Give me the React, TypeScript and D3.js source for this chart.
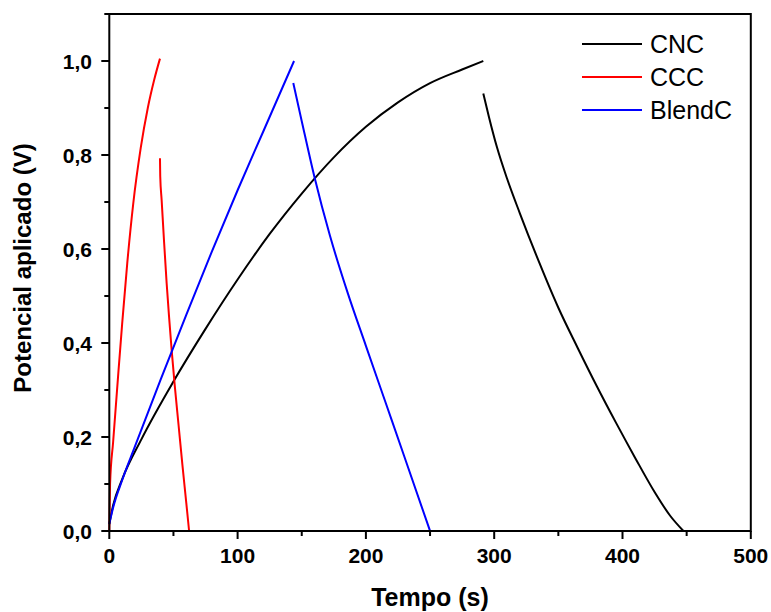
import React from "react";
import * as d3 from "d3";

const cncChargeT = [0, 3, 10, 25, 50, 75, 100, 125, 150, 175, 200, 225, 250, 275, 291.5];
const cncChargeV = [0.015, 0.055, 0.11, 0.195, 0.318, 0.43, 0.535, 0.632, 0.718, 0.795, 0.86, 0.912, 0.953, 0.982, 1.0];
const cncDisT = [291.5, 296, 302, 310, 320, 335, 350, 365, 380, 395, 410, 425, 437, 447.5];
const cncDisV = [0.931, 0.88, 0.818, 0.75, 0.676, 0.572, 0.475, 0.39, 0.308, 0.23, 0.155, 0.083, 0.033, 0];

const cccChargeT = [0, 0.6, 3, 7, 10, 14, 18.6, 24.5, 30, 35, 39.5];
const cccChargeV = [0, 0.1, 0.19, 0.335, 0.44, 0.57, 0.695, 0.815, 0.9, 0.96, 1.005];
const cccDisT = [39.5, 39.7, 40.8, 42.7, 44.7, 46.6, 48.6, 51, 54, 57, 60, 62.2];
const cccDisV = [0.793, 0.755, 0.704, 0.615, 0.527, 0.455, 0.385, 0.31, 0.225, 0.14, 0.06, 0];

const blendChargeT = [0, 3, 10, 20, 40, 60, 80, 100, 120, 144];
const blendChargeV = [0.015, 0.05, 0.108, 0.18, 0.322, 0.46, 0.595, 0.725, 0.85, 1.0];
const blendDisT = [143.4, 150, 160, 172, 186, 200, 215, 230, 250];
const blendDisV = [0.953, 0.872, 0.752, 0.628, 0.505, 0.394, 0.276, 0.158, 0];

const seriesNames = ["CNC", "CCC", "BlendC"];
const seriesColors = ["#000000", "#ff0000", "#0000ff"];

const xTicks = [0, 100, 200, 300, 400, 500];
const xMinor = [50, 150, 250, 350, 450];
const yTicks = [0, 0.2, 0.4, 0.6, 0.8, 1.0];
const yMinor = [0.1, 0.3, 0.5, 0.7, 0.9, 1.1];

const xTitle = "Tempo (s)";
const yTitle = "Potencial aplicado (V)";

const L = 109.3, R = 750.8, T = 14, B = 531;

export default function App() {
  const x = d3.scaleLinear().domain([0, 500]).range([L, R]);
  const y = d3.scaleLinear().domain([0, 1.1]).range([B, T]);
  const line = d3
    .line<[number, number]>()
    .x((d) => x(d[0]))
    .y((d) => y(d[1]))
    .curve(d3.curveMonotoneX);
  const zip = (a: number[], b: number[]) => a.map((v, i) => [v, b[i]] as [number, number]);

  const segments = [
    { d: zip(cncChargeT, cncChargeV), c: 0 },
    { d: zip(cncDisT, cncDisV), c: 0 },
    { d: zip(cccChargeT, cccChargeV), c: 1 },
    { d: zip(cccDisT, cccDisV), c: 1 },
    { d: zip(blendChargeT, blendChargeV), c: 2 },
    { d: zip(blendDisT, blendDisV), c: 2 },
  ];

  const fmt = (v: number) => v.toFixed(1).replace(".", ",");
  const font = "'Liberation Sans', Arial, sans-serif";

  return (
    <svg
      width={771}
      height={612}
      style={{ position: "absolute", left: 0, top: 0, background: "#fff" }}
      fontFamily={font}
    >
      <rect x={0} y={0} width={771} height={612} fill="#fff" />
      {segments.map((s, i) => (
        <path key={i} d={line(s.d) || ""} fill="none" stroke={seriesColors[s.c]} strokeWidth={2} />
      ))}
      <rect x={L} y={T} width={R - L} height={B - T} fill="none" stroke="#000" strokeWidth={2} />
      {xTicks.map((t) => (
        <g key={"x" + t}>
          <line x1={x(t)} x2={x(t)} y1={B} y2={B + 8} stroke="#000" strokeWidth={2} />
          <text x={x(t)} y={563} textAnchor="middle" fontSize={21} fontWeight="bold">
            {t}
          </text>
        </g>
      ))}
      {xMinor.map((t) => (
        <line key={"xm" + t} x1={x(t)} x2={x(t)} y1={B} y2={B + 5} stroke="#000" strokeWidth={2} />
      ))}
      {yTicks.map((t) => (
        <g key={"y" + t}>
          <line x1={L - 8} x2={L} y1={y(t)} y2={y(t)} stroke="#000" strokeWidth={2} />
          <text x={92} y={y(t) + 7.5} textAnchor="end" fontSize={21} fontWeight="bold">
            {fmt(t)}
          </text>
        </g>
      ))}
      {yMinor.map((t) => (
        <line key={"ym" + t} x1={L - 5} x2={L} y1={y(t)} y2={y(t)} stroke="#000" strokeWidth={2} />
      ))}
      <text x={430} y={606} textAnchor="middle" fontSize={25} fontWeight="bold">
        {xTitle}
      </text>
      <text
        x={0}
        y={0}
        transform="translate(31,268) rotate(-90)"
        textAnchor="middle"
        fontSize={24}
        fontWeight="bold"
      >
        {yTitle}
      </text>
      {seriesNames.map((n, i) => (
        <g key={n}>
          <line x1={582} x2={642} y1={44 + i * 33} y2={44 + i * 33} stroke={seriesColors[i]} strokeWidth={2} />
          <text x={650} y={44 + i * 33 + 9} fontSize={25}>
            {n}
          </text>
        </g>
      ))}
    </svg>
  );
}
